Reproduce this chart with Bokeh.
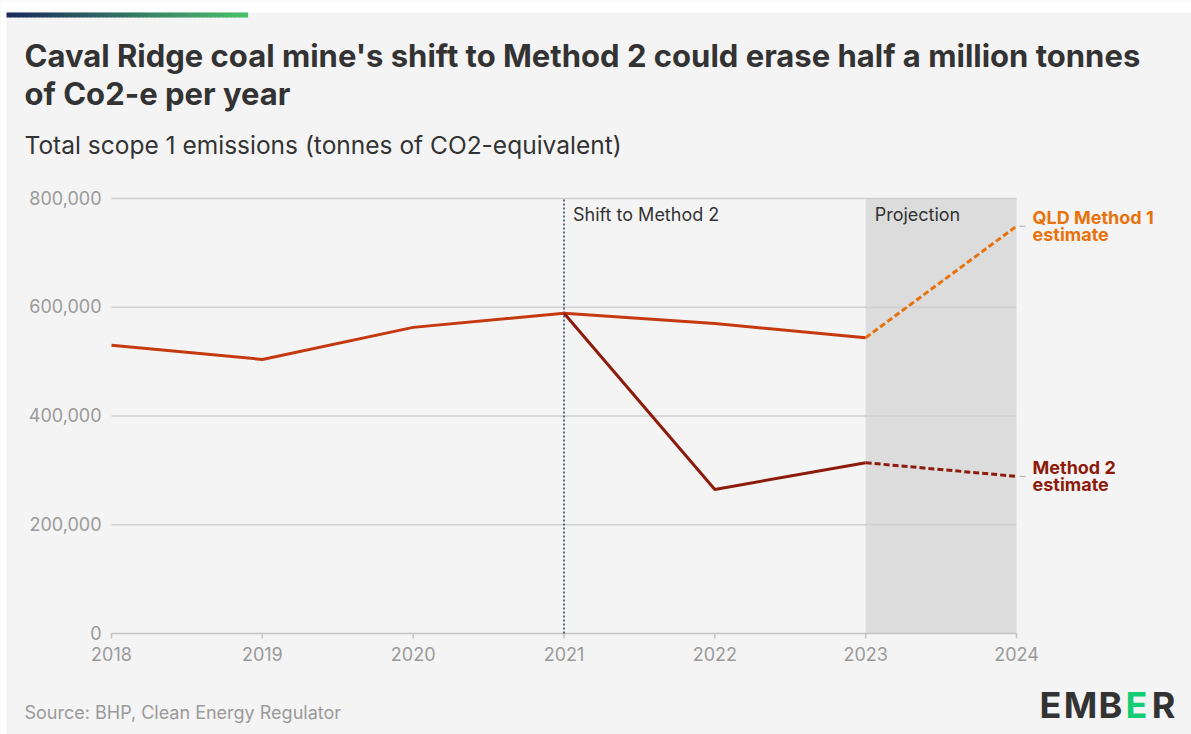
from bokeh.plotting import figure
from bokeh.models import Range1d, Label, LabelSet, ColumnDataSource
from bokeh.core.properties import value
from bokeh.embed import file_html
from bokeh.resources import INLINE

# ---- data ----
years = [2018, 2019, 2020, 2021, 2022, 2023]
reported = [530000, 504000, 563000, 589000, 570000, 544000]
m2_years = [2021, 2022, 2023]
method2 = [589000, 265000, 314000]
proj_years = [2023, 2024]
qld_m1_proj = [544000, 749000]
m2_proj = [314000, 289000]
shift_year = 2021
tick_years = [2018, 2019, 2020, 2021, 2022, 2023, 2024]
tick_year_labels = ["2018", "2019", "2020", "2021", "2022", "2023", "2024"]
y_ticks = [0, 200000, 400000, 600000, 800000]
y_tick_labels = ["0", "200,000", "400,000", "600,000", "800,000"]

# ---- layout constants (page pixels) ----
PW, PH = 1191, 734
PLOT_L, PLOT_R, PLOT_T, PLOT_B = 111, 1016, 198, 633
X0, X1 = tick_years[0], tick_years[-1]
Y0, Y1 = y_ticks[0], y_ticks[-1]
xpp = (X1 - X0) / (PLOT_R - PLOT_L)      # data units per pixel
ypp = (Y1 - Y0) / (PLOT_B - PLOT_T)

FONT = "Inter"
BG = "#f4f4f4"
GRID = "#cfcfcf"
TICKC = "#9a9a9a"

p = figure(width=PW, height=PH, output_backend="svg", toolbar_location=None,
           x_range=Range1d(X0 - PLOT_L * xpp, X1 + (PW - PLOT_R) * xpp),
           y_range=Range1d(Y0 - (PH - PLOT_B) * ypp, Y1 + PLOT_T * ypp),
           x_axis_location=None, y_axis_location=None,
           min_border=0, min_border_left=0, min_border_right=0,
           min_border_top=0, min_border_bottom=0)
p.grid.visible = False
p.outline_line_color = None
p.background_fill_color = BG
p.border_fill_color = BG
# page-pixel coordinate system for decorations
p.extra_x_ranges = {"px": Range1d(0, PW)}
p.extra_y_ranges = {"px": Range1d(PH, 0)}

# white page margin (top / left) and accent bar
p.quad(left=[0, 0], right=[PW, 6], top=[0, 0], bottom=[12, PH], fill_color="white",
       line_color=None, x_range_name="px", y_range_name="px")
grad_from = (28, 42, 92)
grad_to = (72, 192, 106)
n_seg = 60
bx0, bx1 = 6, 247
seg_l, seg_r, seg_c = [], [], []
for i in range(n_seg):
    t = i / (n_seg - 1)
    rgb = tuple(int(round(a + (b - a) * t)) for a, b in zip(grad_from, grad_to))
    seg_l.append(bx0 + (bx1 - bx0) * i / n_seg)
    seg_r.append(bx0 + (bx1 - bx0) * (i + 1) / n_seg + 0.6)
    seg_c.append("#%02x%02x%02x" % rgb)
p.quad(left=seg_l, right=seg_r, top=12, bottom=17, fill_color=seg_c, line_color=None,
       x_range_name="px", y_range_name="px")

# projection band
p.quad(left=[proj_years[0]], right=[proj_years[1]], bottom=[Y0], top=[Y1],
       fill_color="#dcdcdc", line_color=None)

# gridlines, axis line, ticks
grid_y = y_ticks[1:]
p.segment(x0=[X0] * len(grid_y), x1=[X1] * len(grid_y), y0=grid_y, y1=grid_y,
          line_color=GRID, line_width=1.5)
p.segment(x0=[X0], x1=[X1], y0=[Y0], y1=[Y0], line_color="#c4c4c4", line_width=1.5)
p.segment(x0=tick_years, x1=tick_years, y0=[Y0] * len(tick_years),
          y1=[Y0 - 5 * ypp] * len(tick_years), line_color="#c4c4c4", line_width=1.5)

# tick labels
p.add_layout(LabelSet(x="x", y="y", text="t", source=ColumnDataSource(dict(
    x=tick_years, y=[Y0] * len(tick_years), t=tick_year_labels)),
    text_font=value(FONT), text_font_size="18px", text_color=TICKC, text_align="center",
    text_baseline="middle", y_offset=-20))
p.add_layout(LabelSet(x="x", y="y", text="t", source=ColumnDataSource(dict(
    x=[X0] * len(y_ticks), y=y_ticks, t=y_tick_labels)),
    text_font=value(FONT), text_font_size="18px", text_color=TICKC, text_align="right",
    text_baseline="middle", x_offset=-10, y_offset=1))

# shift line
p.segment(x0=[shift_year], x1=[shift_year], y0=[Y0], y1=[Y1], line_color="#2b3b5a",
          line_dash="2 2", line_width=1.5)

# lines
p.line(years, reported, line_color="#c4390f", line_width=3)
p.line(m2_years, method2, line_color="#8d1b0c", line_width=3)
p.line(proj_years, qld_m1_proj, line_color="#e8720c", line_width=3, line_dash="6 3")
p.line(proj_years, m2_proj, line_color="#8d1b0c", line_width=3, line_dash="6 3")

# annotations in plot
p.add_layout(Label(x=shift_year, y=Y1, x_offset=9, y_offset=-5,
                   text="Shift to Method 2", text_font=FONT, text_font_size="18px",
                   text_color="#333333", text_baseline="top"))
p.add_layout(Label(x=proj_years[0], y=Y1, x_offset=9, y_offset=-5,
                   text="Projection", text_font=FONT, text_font_size="18px",
                   text_color="#333333", text_baseline="top"))

# end labels
for yv, lines, col in [(qld_m1_proj[-1], ["QLD Method 1", "estimate"], "#e8720c"),
                       (m2_proj[-1], ["Method 2", "estimate"], "#8d1b0c")]:
    p.segment(x0=[proj_years[-1] + 3 * xpp], x1=[proj_years[-1] + 9 * xpp], y0=[yv], y1=[yv],
              line_color="#b0b0b0", line_width=1)
    p.add_layout(Label(x=proj_years[-1], y=yv, x_offset=16, y_offset=9, text=lines[0],
                       text_font=FONT, text_font_size="18px", text_font_style="bold",
                       text_color=col, text_baseline="middle"))
    p.add_layout(Label(x=proj_years[-1], y=yv, x_offset=16, y_offset=-8, text=lines[1],
                       text_font=FONT, text_font_size="18px", text_font_style="bold",
                       text_color=col, text_baseline="middle"))

# page-positioned texts (py = vertical centre on the page)
def slabel(px, py, text, size, color, style="normal", align="left"):
    p.add_layout(Label(x=px, y=PH - py, x_units="screen", y_units="screen",
                       text=text, text_font=FONT, text_font_size=size,
                       text_color=color, text_font_style=style, text_baseline="middle",
                       text_align=align))

slabel(24, 55, "Caval Ridge coal mine's shift to Method 2 could erase half a million tonnes",
       "31px", "#333333", "bold")
slabel(24, 93, "of Co2-e per year", "31px", "#333333", "bold")
slabel(24, 144, "Total scope 1 emissions (tonnes of CO2-equivalent)", "24.5px", "#333333")
slabel(24, 712, "Source: BHP, Clean Energy Regulator", "18px", "#9a9a9a")
# logo
for cx, ch, colr in [(1050, "E", "#333333"), (1080, "M", "#333333"), (1110, "B", "#333333"),
                     (1136, "E", "#13ce74"), (1163, "R", "#333333")]:
    slabel(cx, 704, ch, "36px", colr, "bold", align="center")

open("out.html", "w").write(file_html(p, INLINE))
